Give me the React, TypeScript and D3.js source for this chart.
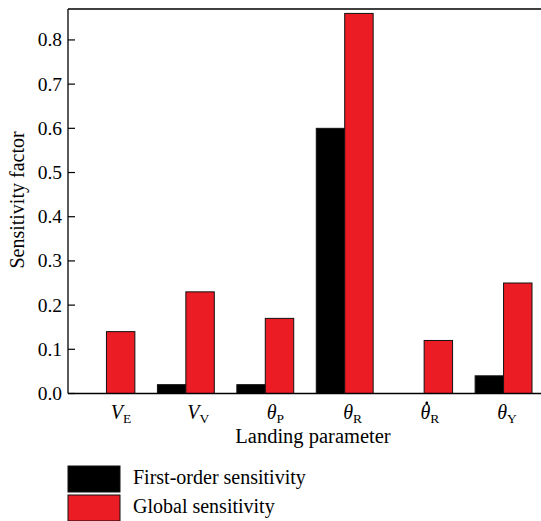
import React from 'react';
import * as d3 from 'd3';

// landing parameters (main symbol, subscript, has dot)
const params = ['VE', 'VV', 'thP', 'thR', 'thRdot', 'thY'];
const paramSymbol = ['V', 'V', 'θ', 'θ', 'θ', 'θ'];
const paramSub = ['E', 'V', 'P', 'R', 'R', 'Y'];
const paramDot = [false, false, false, false, true, false];

const firstOrder = [0.0, 0.02, 0.02, 0.6, 0.0, 0.04];
const globalSens = [0.14, 0.23, 0.17, 0.86, 0.12, 0.25];

const seriesNames = ['First-order sensitivity', 'Global sensitivity'];
const seriesColors = ['#000000', '#ec1c24'];
const yTickValues = [0, 0.1, 0.2, 0.3, 0.4, 0.5, 0.6, 0.7, 0.8];

const FONT = "'Liberation Serif', 'Times New Roman', 'DejaVu Serif', serif";

export default function App() {
    const width = 541;
    const height = 521;
    const margin = { t: 9, b: 127.5, l: 68, r: 0 };
    const bottom = height - margin.b;

    // bars
    const x = d3.scaleBand<string>()
        .domain(params)
        .range([78, 532])
        .paddingInner(0.284)
        .paddingOuter(0);

    const xs = d3.scaleBand<number>()
        .domain([0, 1])
        .range([0, x.bandwidth()])
        .padding(0);

    // tick labels sit a little off the group centres
    const xLab = d3.scalePoint<string>()
        .domain(params)
        .range([121, 507]);

    const y = d3.scaleLinear()
        .domain([0, 0.87])
        .range([bottom, margin.t]);

    const series = [firstOrder, globalSens];

    const bars = params.map((p, i) =>
        series.map((s, k) => {
            const v = s[i];
            if (v <= 0) return null;
            return (
                <rect key={p + k}
                    x={(x(p) as number) + (xs(k) as number)}
                    y={y(v)}
                    width={xs.bandwidth()}
                    height={bottom - y(v)}
                    fill={seriesColors[k]}
                    stroke="#111"
                    strokeWidth={1}
                />
            );
        })
    );

    const yTicks = yTickValues.map(d => (
        <g key={d} transform={`translate(${margin.l},${y(d)})`}>
            <line x1={0} x2={7} y1={0} y2={0} stroke="#000" strokeWidth={1.2} />
            <text x={-6} y={6.5} textAnchor="end" fontSize={19.5}>
                {d3.format('.1f')(d)}
            </text>
        </g>
    ));

    const xLabels = params.map((p, i) => {
        const cx = xLab(p) as number;
        return (
            <g key={p} transform={`translate(${cx},419)`}>
                <text textAnchor="middle" fontSize={20}>
                    <tspan fontStyle="italic">{paramSymbol[i]}</tspan>
                    <tspan fontSize={13.5} dy={4}>{paramSub[i]}</tspan>
                </text>
                {paramDot[i] ? (
                    <circle cx={-3} cy={-16} r={1.4} fill="#000" />
                ) : null}
            </g>
        );
    });

    const legend = seriesNames.map((name, k) => (
        <g key={name} transform={`translate(68,${466 + k * 29})`}>
            <rect x={0} y={0} width={52} height={26} fill={seriesColors[k]} stroke="#111" strokeWidth={1} />
            <text x={65} y={17.5} fontSize={20}>{name}</text>
        </g>
    ));

    return (
        <svg width={width} height={height}
            style={{ position: 'absolute', left: 0, top: 0, background: '#fff', fontFamily: FONT }}>
            <g>{bars}</g>
            <line x1={margin.l} x2={width} y1={margin.t} y2={margin.t} stroke="#000" strokeWidth={1.3} />
            <line x1={margin.l} x2={width} y1={bottom} y2={bottom} stroke="#000" strokeWidth={1.3} />
            <line x1={margin.l} x2={margin.l} y1={margin.t} y2={bottom} stroke="#000" strokeWidth={1.3} />
            <g>{yTicks}</g>
            <g>{xLabels}</g>
            <text x={313} y={443} textAnchor="middle" fontSize={20.5}>Landing parameter</text>
            <text transform={`translate(24,200) rotate(-90)`} textAnchor="middle" fontSize={20}>
                Sensitivity factor
            </text>
            <g>{legend}</g>
        </svg>
    );
}
